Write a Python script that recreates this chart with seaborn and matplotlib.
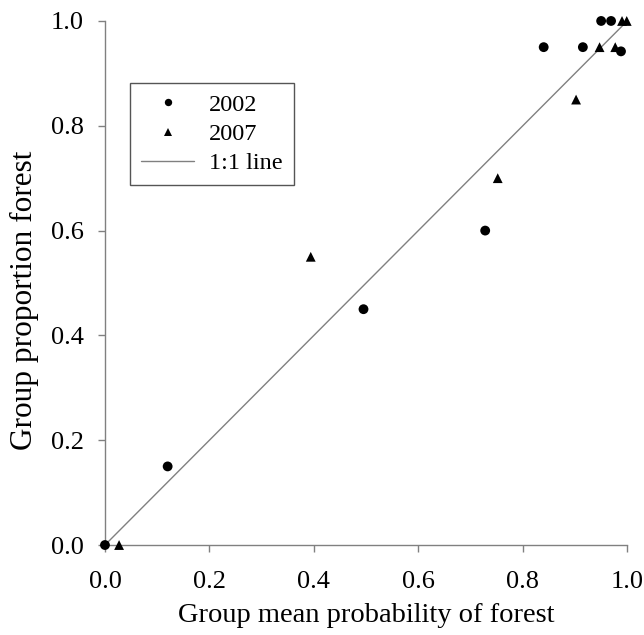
import numpy as np
import pandas as pd
import matplotlib
matplotlib.use('Agg')
import matplotlib.pyplot as plt
import seaborn as sns

# Values
x_2002 = [0.0, 0.12, 0.495, 0.728, 0.84, 0.915, 0.95, 0.969, 0.988]
y_2002 = [0.0, 0.15, 0.45, 0.60, 0.95, 0.95, 1.0, 1.0, 0.942]
x_2007 = [0.027, 0.394, 0.752, 0.902, 0.947, 0.977, 0.99, 0.999]
y_2007 = [0.0, 0.55, 0.70, 0.85, 0.95, 0.95, 1.0, 1.0]
line_x = [0.0, 1.0]
line_y = [0.0, 1.0]
ticks = [0.0, 0.2, 0.4, 0.6, 0.8, 1.0]
tick_labels = ['0.0', '0.2', '0.4', '0.6', '0.8', '1.0']

df = pd.DataFrame({
    'x': x_2002 + x_2007,
    'y': y_2002 + y_2007,
    'year': ['2002'] * len(x_2002) + ['2007'] * len(x_2007),
})

sns.set_style('white')
plt.rcParams['font.family'] = ['Liberation Serif', 'DejaVu Serif']
plt.rcParams['text.color'] = 'black'
plt.rcParams['axes.labelcolor'] = 'black'
plt.rcParams['xtick.color'] = 'black'
plt.rcParams['ytick.color'] = 'black'

fig = plt.figure(figsize=(6.44, 6.35), dpi=100)
ax = fig.add_axes([0.163, 0.1417, 0.811, 0.8253])

sns.lineplot(x=line_x, y=line_y, ax=ax, color='#808080', linewidth=1.0,
             label='1:1 line', zorder=1)
sns.scatterplot(data=df, x='x', y='y', style='year',
                markers={'2002': 'o', '2007': '^'}, color='black',
                s=50, edgecolor='black', linewidth=0, ax=ax, zorder=3,
                clip_on=False)

ax.set_xlim(0, 1.0)
ax.set_ylim(0, 1.0)
ax.set_xticks(ticks)
ax.set_xticklabels(tick_labels)
ax.set_yticks(ticks)
ax.set_yticklabels(tick_labels)
ax.tick_params(axis='both', direction='out', length=5, width=1, color='#808080',
               labelcolor='black', labelsize=19, bottom=True, left=True)
ax.tick_params(axis='x', pad=14)
ax.tick_params(axis='y', pad=10)
for side in ['top', 'right']:
    ax.spines[side].set_visible(False)
for side in ['left', 'bottom']:
    ax.spines[side].set_color('#808080')
    ax.spines[side].set_linewidth(1.0)

ax.set_xlabel('Group mean probability of forest', fontsize=20.5)
ax.set_ylabel('Group proportion forest', fontsize=22.5)
ax.xaxis.set_label_coords(0.5, -0.11)
ax.yaxis.set_label_coords(-0.127, 0.466)

handles, labels = ax.get_legend_handles_labels()
order = [labels.index('2002'), labels.index('2007'), labels.index('1:1 line')]
leg = ax.legend([handles[i] for i in order], [labels[i] for i in order],
                loc='upper left', bbox_to_anchor=(0.048, 0.882), borderaxespad=0,
                fontsize=17.5, frameon=True, fancybox=False, framealpha=1,
                edgecolor='#555555', handlelength=2.2, borderpad=0.45,
                labelspacing=0.3, handletextpad=0.6, markerscale=0.75)
leg.get_frame().set_linewidth(1.0)

fig.savefig('out.png', dpi=100)
plt.close(fig)
